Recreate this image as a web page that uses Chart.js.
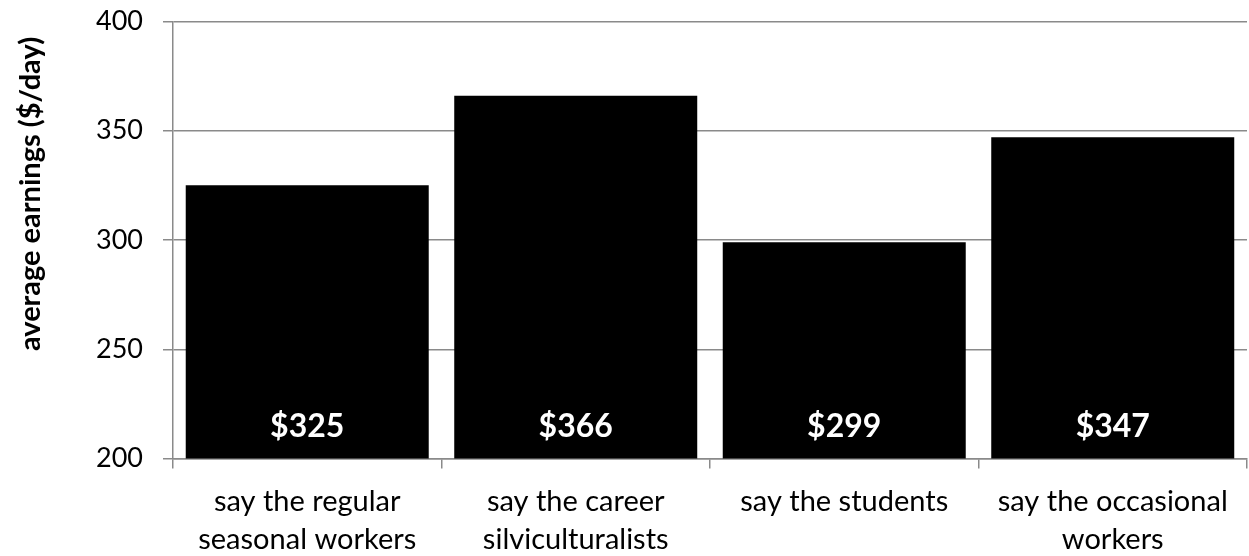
<!DOCTYPE html>
<html>
<head>
<meta charset="utf-8">
<script src="https://cdn.jsdelivr.net/npm/chart.js@4/dist/chart.umd.min.js"></script>
<style>
  html, body { margin: 0; padding: 0; background: #fff; }
  #wrap { width: 1249px; height: 556px; }
</style>
</head>
<body>
<div id="wrap"><canvas id="chart" width="1249" height="556"></canvas></div>
<script>
const categories = [
  ['say the regular', 'seasonal workers'],
  ['say the career', 'silviculturalists'],
  ['say the students'],
  ['say the occasional', 'workers']
];
const earnings = [325, 366, 299, 347];
const yTicks = [200, 250, 300, 350, 400];
const yTitle = 'average earnings ($/day)';

const FONT = 'Lato, "Open Sans", sans-serif';
const GRID = '#8a8a8a';

// white "$value" text near the foot of each bar
const barLabels = {
  id: 'barLabels',
  afterDatasetsDraw(chart) {
    const ctx = chart.ctx;
    const meta = chart.getDatasetMeta(0);
    const base = chart.scales.y.getPixelForValue(200);
    ctx.save();
    ctx.fillStyle = '#fff';
    ctx.font = 'bold 32px ' + FONT;
    ctx.textAlign = 'center';
    ctx.textBaseline = 'middle';
    meta.data.forEach((bar, i) => {
      ctx.fillText('$' + earnings[i], bar.x, base - 32);
    });
    ctx.restore();
  }
};

// rotated axis title, drawn by hand so it can sit where we want it
const sideTitle = {
  id: 'sideTitle',
  afterDraw(chart) {
    const ctx = chart.ctx;
    ctx.save();
    ctx.translate(31, 194);
    ctx.rotate(-Math.PI / 2);
    ctx.fillStyle = '#000';
    ctx.font = 'bold 29px ' + FONT;
    ctx.textAlign = 'center';
    ctx.textBaseline = 'middle';
    ctx.fillText(yTitle, 0, 0);
    ctx.restore();
  }
};

new Chart(document.getElementById('chart'), {
  type: 'bar',
  data: {
    labels: categories,
    datasets: [{
      data: earnings,
      backgroundColor: '#000',
      borderWidth: 0,
      barPercentage: 0.905,
      categoryPercentage: 1
    }]
  },
  options: {
    responsive: false,
    animation: false,
    layout: { padding: { left: 76, right: 2, top: 0, bottom: -16 } },
    plugins: {
      legend: { display: false },
      tooltip: { enabled: false }
    },
    scales: {
      x: {
        grid: {
          offset: true,
          drawOnChartArea: false,
          color: GRID,
          lineWidth: 1.5,
          tickLength: 10
        },
        border: { color: GRID, width: 1.5 },
        ticks: {
          color: '#000',
          font: { family: FONT, size: 29, lineHeight: 1.3 },
          padding: 14,
          maxRotation: 0,
          autoSkip: false
        }
      },
      y: {
        min: 200,
        max: 400,
        afterBuildTicks(axis) {
          axis.ticks = yTicks.map(v => ({ value: v }));
        },
        grid: {
          color: GRID,
          lineWidth: 1.5,
          tickLength: 10
        },
        border: { color: GRID, width: 1.5 },
        ticks: {
          color: '#000',
          font: { family: FONT, size: 27, lineHeight: 0.1 },
          padding: 20
        }
      }
    }
  },
  plugins: [barLabels, sideTitle]
});
</script>
</body>
</html>
